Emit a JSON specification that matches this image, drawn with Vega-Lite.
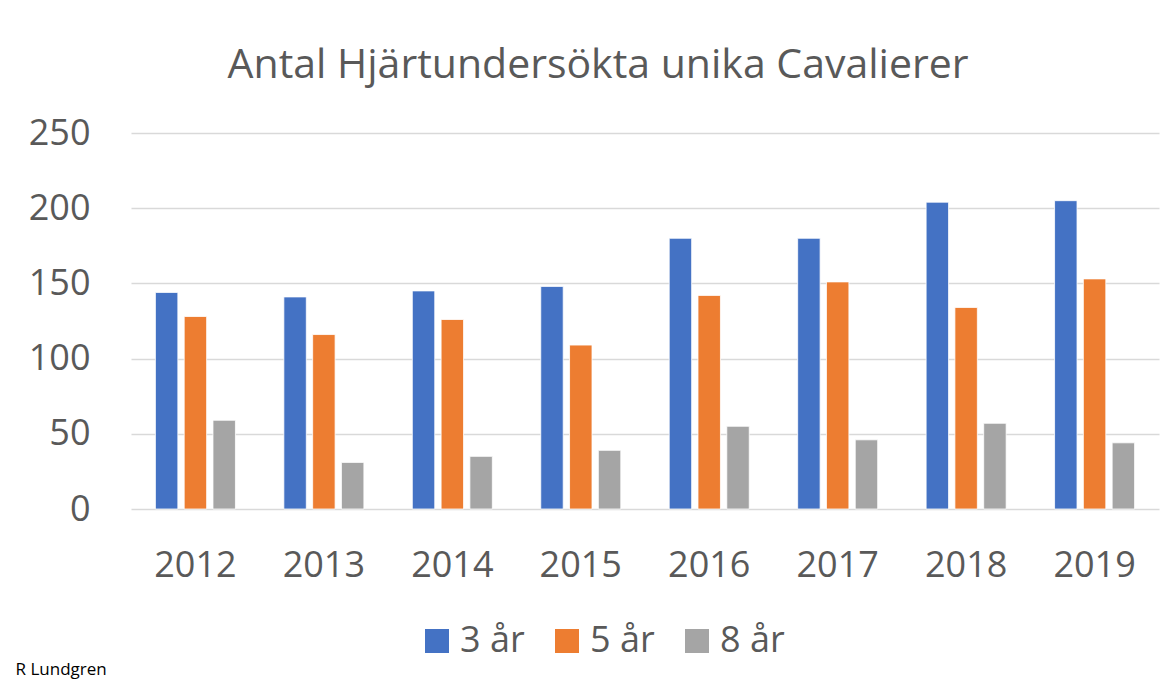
{
  "$schema": "https://vega.github.io/schema/vega-lite/v6.json",
  "width": 1028,
  "height": 376,
  "autosize": {"type": "none"},
  "padding": {"left": 131, "top": 133, "right": 16, "bottom": 175},
  "background": "white",
  "config": {
    "font": "Open Sans",
    "view": {"stroke": null}
  },
  "title": {
    "text": "Antal Hjärtundersökta unika Cavalierer",
    "font": "Open Sans",
    "fontSize": 41,
    "fontWeight": "normal",
    "color": "#595959",
    "anchor": "middle",
    "frame": "group",
    "dx": -47,
    "baseline": "alphabetic",
    "offset": -4
  },
  "data": {
    "values": [
      {"year": "2012", "age": "3 år", "count": 144},
      {"year": "2012", "age": "5 år", "count": 128},
      {"year": "2012", "age": "8 år", "count": 59},
      {"year": "2013", "age": "3 år", "count": 141},
      {"year": "2013", "age": "5 år", "count": 116},
      {"year": "2013", "age": "8 år", "count": 31},
      {"year": "2014", "age": "3 år", "count": 145},
      {"year": "2014", "age": "5 år", "count": 126},
      {"year": "2014", "age": "8 år", "count": 35},
      {"year": "2015", "age": "3 år", "count": 148},
      {"year": "2015", "age": "5 år", "count": 109},
      {"year": "2015", "age": "8 år", "count": 39},
      {"year": "2016", "age": "3 år", "count": 180},
      {"year": "2016", "age": "5 år", "count": 142},
      {"year": "2016", "age": "8 år", "count": 55},
      {"year": "2017", "age": "3 år", "count": 180},
      {"year": "2017", "age": "5 år", "count": 151},
      {"year": "2017", "age": "8 år", "count": 46},
      {"year": "2018", "age": "3 år", "count": 204},
      {"year": "2018", "age": "5 år", "count": 134},
      {"year": "2018", "age": "8 år", "count": 57},
      {"year": "2019", "age": "3 år", "count": 205},
      {"year": "2019", "age": "5 år", "count": 153},
      {"year": "2019", "age": "8 år", "count": 44}
    ]
  },
  "mark": {"type": "bar", "stroke": "white", "strokeWidth": 0.8},
  "encoding": {
    "x": {
      "field": "year",
      "type": "nominal",
      "scale": {"paddingInner": 0.377, "paddingOuter": 0.19},
      "axis": {
        "title": "R Lundgren",
        "titleFont": "Open Sans",
        "titleFontSize": 17,
        "titleFontWeight": "normal",
        "titleColor": "#000000",
        "titleAnchor": "start",
        "titleAlign": "left",
        "titleBaseline": "alphabetic",
        "titleX": -116,
        "titleY": 165,
        "labelAngle": 0,
        "labelFontSize": 36,
        "labelColor": "#595959",
        "labelPadding": 39,
        "ticks": false,
        "domain": false,
        "grid": false
      }
    },
    "xOffset": {
      "field": "age",
      "type": "nominal",
      "scale": {"paddingInner": 0.22, "paddingOuter": 0}
    },
    "y": {
      "field": "count",
      "type": "quantitative",
      "scale": {"domain": [0, 250]},
      "axis": {
        "title": null,
        "values": [0, 50, 100, 150, 200, 250],
        "labelFontSize": 36,
        "labelColor": "#595959",
        "labelPadding": 41,
        "ticks": false,
        "domain": false,
        "grid": true,
        "gridColor": "#d9d9d9",
        "gridWidth": 1.5
      }
    },
    "color": {
      "field": "age",
      "type": "nominal",
      "scale": {"domain": ["3 år", "5 år", "8 år"], "range": ["#4472C4", "#ED7D31", "#A5A5A5"]},
      "legend": {
        "title": null,
        "orient": "none",
        "direction": "horizontal",
        "legendX": 288,
        "legendY": 490,
        "symbolType": "square",
        "symbolSize": 576,
        "symbolStrokeWidth": 0,
        "labelFontSize": 36,
        "labelColor": "#595959",
        "labelOffset": 5,
        "columnPadding": 24,
        "labelLimit": 300
      }
    }
  }
}
